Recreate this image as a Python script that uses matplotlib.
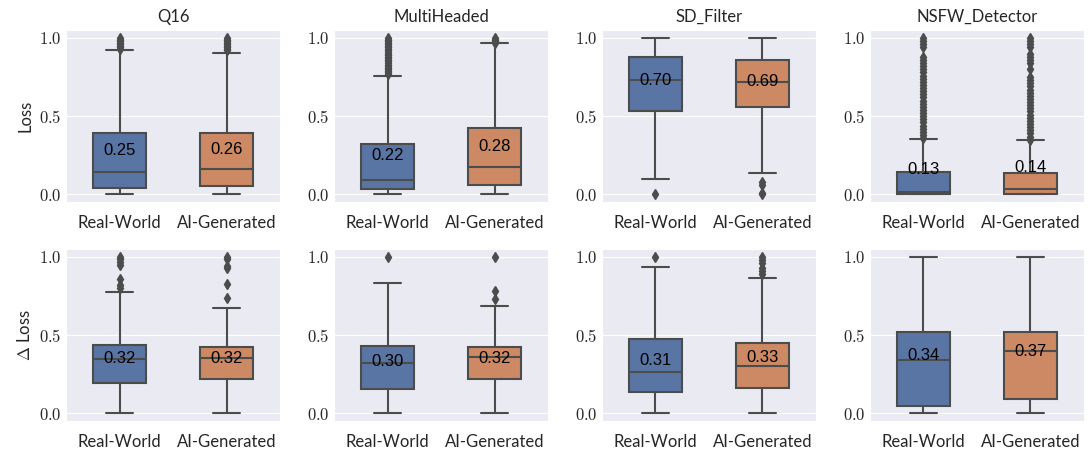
"""Box plots of per-image loss for four safety classifiers, real vs generated images."""

import matplotlib
matplotlib.use('Agg')
import matplotlib.pyplot as plt
import seaborn as sns


MODELS = ['Q16', 'MultiHeaded', 'SD_Filter', 'NSFW_Detector']
GROUPS = ['Real-World', 'AI-Generated']
ROW_LABELS = ['Loss', r'$\Delta$ Loss']
COLORS = ['#5975a4', '#cc8963']
LINE_GRAY = '#4c4c4c'

# Loss row: one [real, generated] pair per model
LOSS_MEAN = [[0.25, 0.26], [0.22, 0.28], [0.70, 0.69], [0.13, 0.14]]
LOSS_MED = [[0.144, 0.161], [0.095, 0.175], [0.731, 0.721], [0.017, 0.032]]
LOSS_Q1 = [[0.042, 0.055], [0.034, 0.059], [0.531, 0.558], [0.002, 0.003]]
LOSS_Q3 = [[0.393, 0.393], [0.323, 0.423], [0.877, 0.860], [0.144, 0.137]]
LOSS_WLO = [[0.0, 0.0], [0.0, 0.0], [0.097, 0.135], [0.0, 0.0]]
LOSS_WHI = [[0.922, 0.907], [0.759, 0.966], [1.0, 1.0], [0.355, 0.345]]
LOSS_FLIERS = [
    [[0.93, 0.94, 0.95, 0.96, 0.97, 0.98, 0.99, 1.0],
     [0.92, 0.93, 0.94, 0.95, 0.96, 0.97, 0.98, 0.99, 1.0]],
    [[0.77, 0.78, 0.79, 0.80, 0.81, 0.82, 0.83, 0.84, 0.85, 0.86, 0.87, 0.88,
      0.89, 0.90, 0.91, 0.92, 0.93, 0.94, 0.95, 0.96, 0.97, 0.98, 0.99, 1.0],
     [0.97, 0.98, 0.99, 1.0]],
    [[0.0],
     [0.0, 0.01, 0.06, 0.08]],
    [[0.36, 0.38, 0.40, 0.42, 0.44, 0.46, 0.48, 0.50, 0.52, 0.54, 0.56, 0.58,
      0.60, 0.62, 0.64, 0.66, 0.68, 0.70, 0.72, 0.74, 0.76, 0.78, 0.80, 0.82,
      0.84, 0.86, 0.88, 0.94, 0.96, 0.98, 1.0],
     [0.35, 0.37, 0.39, 0.41, 0.43, 0.45, 0.47, 0.49, 0.51, 0.53, 0.55, 0.57,
      0.59, 0.61, 0.63, 0.65, 0.67, 0.69, 0.71, 0.73, 0.75, 0.80, 0.84, 0.86,
      0.88, 0.90, 0.94, 0.96, 0.98, 1.0]],
]

# Delta loss row
DELTA_MEAN = [[0.32, 0.32], [0.30, 0.32], [0.31, 0.33], [0.34, 0.37]]
DELTA_MED = [[0.346, 0.357], [0.325, 0.359], [0.266, 0.300], [0.342, 0.399]]
DELTA_Q1 = [[0.194, 0.219], [0.156, 0.222], [0.139, 0.165], [0.044, 0.093]]
DELTA_Q3 = [[0.437, 0.422], [0.432, 0.422], [0.477, 0.449], [0.523, 0.523]]
DELTA_WLO = [[0.0, 0.0], [0.0, 0.0], [0.0, 0.0], [0.0, 0.0]]
DELTA_WHI = [[0.776, 0.673], [0.831, 0.686], [0.935, 0.865], [1.0, 1.0]]
DELTA_FLIERS = [
    [[0.80, 0.82, 0.86, 0.95, 0.97, 0.99, 1.0],
     [0.74, 0.83, 0.93, 0.94, 0.99, 1.0]],
    [[1.0],
     [0.73, 0.78, 1.0]],
    [[1.0],
     [0.89, 0.91, 0.93, 0.96, 0.98, 1.0]],
    [[], []],
]

ROWS = [
    (LOSS_MEAN, LOSS_MED, LOSS_Q1, LOSS_Q3, LOSS_WLO, LOSS_WHI, LOSS_FLIERS),
    (DELTA_MEAN, DELTA_MED, DELTA_Q1, DELTA_Q3, DELTA_WLO, DELTA_WHI, DELTA_FLIERS),
]

sns.set_style('darkgrid')
plt.rcParams['font.family'] = ['Lato', 'DejaVu Sans']
plt.rcParams['mathtext.fontset'] = 'cm'

fig, axes = plt.subplots(2, 4, figsize=(10.88, 4.5), dpi=100)
fig.subplots_adjust(left=0.0607, right=0.9963, bottom=0.064, top=0.933,
                    wspace=0.252, hspace=0.273)

for r, (means, meds, q1s, q3s, wlos, whis, fliers) in enumerate(ROWS):
    for c, model in enumerate(MODELS):
        ax = axes[r, c]
        stats = []
        for g in range(len(GROUPS)):
            stats.append(dict(med=meds[c][g], q1=q1s[c][g], q3=q3s[c][g],
                              whislo=wlos[c][g], whishi=whis[c][g],
                              fliers=fliers[c][g], mean=means[c][g]))
        bp = ax.bxp(stats, positions=range(len(GROUPS)), widths=0.5,
                    patch_artist=True, showfliers=True,
                    boxprops=dict(edgecolor=LINE_GRAY, linewidth=1.5),
                    medianprops=dict(color=LINE_GRAY, linewidth=1.5),
                    whiskerprops=dict(color=LINE_GRAY, linewidth=1.5),
                    capprops=dict(color=LINE_GRAY, linewidth=1.5),
                    flierprops=dict(marker='d', markersize=5,
                                    markerfacecolor=LINE_GRAY,
                                    markeredgecolor=LINE_GRAY))
        for patch, color in zip(bp['boxes'], COLORS):
            patch.set_facecolor(color)

        # mean value written on each box
        for g, s in enumerate(stats):
            ax.text(g, s['mean'], f"{s['mean']:.2f}", ha='center', va='baseline',
                    fontsize=12, color='black',
                    family=['Liberation Sans', 'DejaVu Sans'])

        ax.set_xlim(-0.5, 1.5)
        ax.set_ylim(-0.05, 1.05)
        ax.set_xticks(range(len(GROUPS)))
        ax.set_xticklabels(GROUPS, fontsize=12)
        ax.set_yticks([0.0, 0.5, 1.0])
        ax.set_yticklabels(['$0.0$', '$0.5$', '$1.0$'], fontsize=12)
        ax.grid(axis='x', visible=False)
        ax.tick_params(axis='both', length=0)
        ax.tick_params(axis='x', pad=9)
        if r == 0:
            ax.set_title(model, fontsize=12)
        if c == 0:
            ax.set_ylabel(ROW_LABELS[r], fontsize=12)

fig.savefig('out.png', dpi=100)
